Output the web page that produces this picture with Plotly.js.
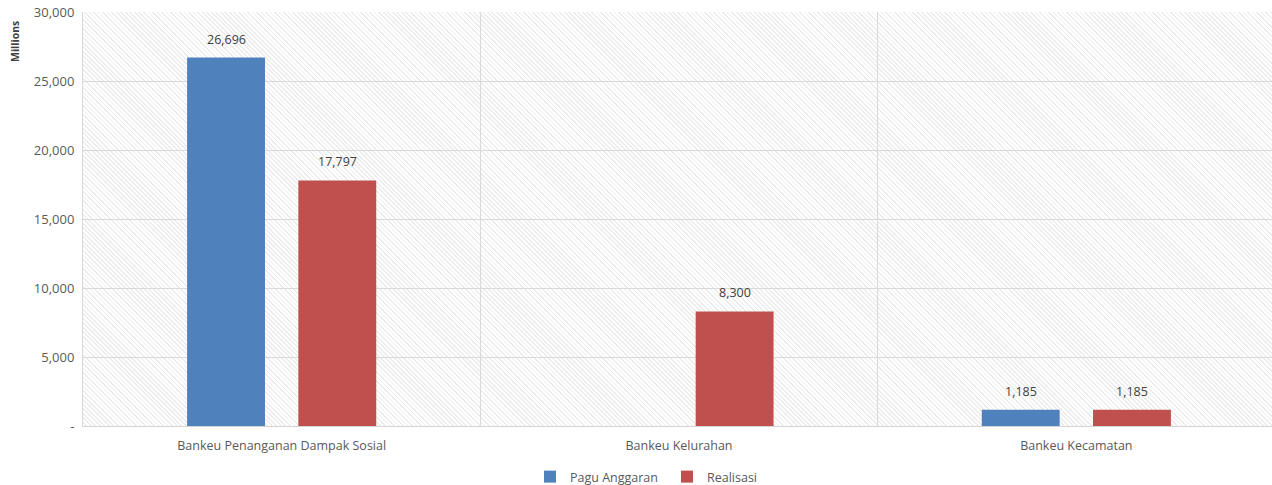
<!DOCTYPE html>
<html>
<head>
<meta charset="utf-8">
<script src="https://cdn.plot.ly/plotly-3.0.1.min.js"></script>
<style>
html,body{margin:0;padding:0;background:#fff;overflow:hidden;}
#wrap{position:relative;width:1272px;height:485px;overflow:hidden;}
#hatch{position:absolute;left:83px;top:12px;width:1192px;height:414px;
  background:repeating-linear-gradient(45deg,#ffffff 0px,#ffffff 2px,#ececec 2px,#ececec 3.2px);}
#chart{position:absolute;left:0;top:0;width:1275px;height:485px;}
</style>
</head>
<body>
<div id="wrap"><div id="hatch"></div><div id="chart"></div></div>
<script>
const categories = ["Bankeu Penanganan Dampak Sosial", "Bankeu Kelurahan", "Bankeu Kecamatan"];
const paguAnggaran = [26696, null, 1185];
const realisasi = [17797, 8300, 1185];
const yTickVals = [0, 5000, 10000, 15000, 20000, 25000, 30000];
const yTickText = ["-", "5,000", "10,000", "15,000", "20,000", "25,000", "30,000"];
const yUnitLabel = "Millions";

const fmt = v => v == null ? "" : v.toLocaleString("en-US");
const FONT = "Open Sans, sans-serif";
const labelFont = {family: FONT, size: 12.5, color: "#404040"};

const traces = [
  {type: "bar", name: "Pagu Anggaran", x: categories, y: paguAnggaran,
   marker: {color: "#4f81bd"}, hoverinfo: "x+y"},
  {type: "bar", name: "Realisasi", x: categories, y: realisasi,
   marker: {color: "#c0504d"}, hoverinfo: "x+y"}
];

// value labels placed above bars, offset within each category group
const bargap = 0.44;
const slot = (1 - bargap) / 2;
const annotations = [];
[paguAnggaran, realisasi].forEach((series, si) => {
  const off = (si - 0.5) * slot;
  series.forEach((v, i) => {
    if (v == null) return;
    annotations.push({x: i + off, y: v, xref: "x", yref: "y", text: fmt(v),
      showarrow: false, yanchor: "bottom", yshift: 8, font: labelFont});
  });
});
// unit label near the top of the y axis
annotations.push({xref: "paper", yref: "paper", x: (15 - 83) / 1192, y: (426 - 42) / 414,
  text: "<b>" + yUnitLabel + "</b>", textangle: -90, showarrow: false,
  xanchor: "center", yanchor: "middle",
  font: {family: FONT, size: 10.5, color: "#404040"}});

const layout = {
  width: 1275, height: 485,
  margin: {l: 83, r: 0, t: 12, b: 59},
  paper_bgcolor: "rgba(0,0,0,0)",
  plot_bgcolor: "rgba(0,0,0,0)",
  barmode: "group",
  bargap: bargap,
  bargroupgap: 0.3,
  font: {family: FONT, size: 12.5, color: "#595959"},
  annotations: annotations,
  xaxis: {
    type: "category", range: [-0.5, 2.5], tickson: "boundaries",
    showgrid: true, gridcolor: "#d9d9d9", gridwidth: 1,
    ticks: "", showline: true, linecolor: "#d4d4d4", ticklabelstandoff: 8,
    tickfont: {family: FONT, size: 12.5, color: "#595959"}
  },
  yaxis: {
    range: [0, 30000], tickvals: yTickVals, ticktext: yTickText,
    showgrid: true, gridcolor: "#d9d9d9", gridwidth: 1, zeroline: false,
    showline: true, linecolor: "#d9d9d9", ticks: "", ticklabelstandoff: 5,
    automargin: false,
    tickfont: {family: FONT, size: 13, color: "#595959"}
  },
  legend: {
    orientation: "h", xref: "container", x: 530 / 1275, xanchor: "left",
    yref: "container", y: 1 - 477 / 485, yanchor: "middle",
    font: {family: FONT, size: 12.5, color: "#595959"},
    itemwidth: 30, entrywidth: 92, traceorder: "normal"
  },
  showlegend: true
};

Plotly.newPlot("chart", traces, layout, {displayModeBar: false, staticPlot: true});
</script>
</body>
</html>
